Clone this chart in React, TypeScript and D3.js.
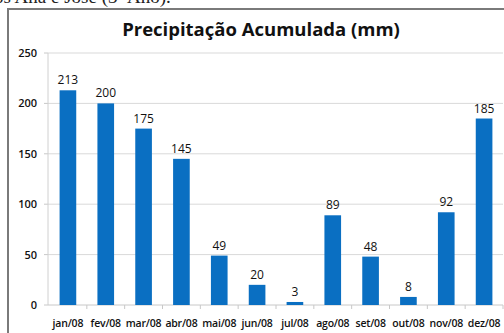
import React from "react";
import * as d3 from "d3";

const months = ["jan/08","fev/08","mar/08","abr/08","mai/08","jun/08","jul/08","ago/08","set/08","out/08","nov/08","dez/08"];
const values = [213,200,175,145,49,20,3,89,48,8,92,185];
const yTicks = [0,50,100,150,200,250];
const title = "Precipitação Acumulada (mm)";
const caption = "os Ana e José (3º Ano).";

export default function App() {
  const W = 504, H = 333;
  const x = d3.scaleBand<string>().domain(months).range([49, 503]).paddingInner(0.56).paddingOuter(0.28);
  const y = d3.scaleLinear().domain([0, 250]).range([305, 53]);
  const step = x.step();
  const font = "'Open Sans', 'DejaVu Sans', sans-serif";
  return (
    <svg width={W} height={H} style={{ position: "absolute", left: 0, top: 0, background: "#fff" }}>
      <text x={-6} y={3} fontFamily="'Liberation Serif', serif" fontSize={19} fill="#222">{caption}</text>
      <rect x={8} y={9} width={520} height={340} fill="#fff" stroke="#7a7a7a" strokeWidth={2} />
      <text x={261} y={36} textAnchor="middle" fontFamily={font} fontWeight={700} fontSize={18.5} fill="#111">{title}</text>
      {yTicks.map(t => (
        <g key={t}>
          {t > 0 && <line x1={48} x2={503} y1={y(t)} y2={y(t)} stroke="#d9d9d9" strokeWidth={1} />}
          <line x1={44} x2={48} y1={y(t)} y2={y(t)} stroke="#c8c8c8" />
          <text x={37} y={y(t) + 4} textAnchor="end" fontFamily={font} fontSize={11} fontWeight={600} fill="#111">{t}</text>
        </g>
      ))}
      <line x1={48} x2={48} y1={y(250)} y2={y(0)} stroke="#d0d0d0" />
      <line x1={48} x2={503} y1={y(0)} y2={y(0)} stroke="#c8c8c8" />
      {months.map((m, i) => {
        const bx = 49 + i * step;
        return <line key={"t" + m} x1={bx + step} x2={bx + step} y1={y(0)} y2={y(0) + 4} stroke="#c8c8c8" />;
      })}
      {values.map((v, i) => (
        <g key={months[i]}>
          <rect x={x(months[i])} y={y(v)} width={x.bandwidth()} height={y(0) - y(v)} fill="#0a6fc2" />
          <text x={x(months[i])! + x.bandwidth() / 2} y={y(v) - 6} textAnchor="middle" fontFamily={font} fontSize={12} fill="#111">{v}</text>
          <text x={x(months[i])! + x.bandwidth() / 2} y={327} textAnchor="middle" fontFamily={font} fontSize={10.5} fontWeight={600} fill="#111" letterSpacing={-0.2}>{months[i]}</text>
        </g>
      ))}
    </svg>
  );
}
